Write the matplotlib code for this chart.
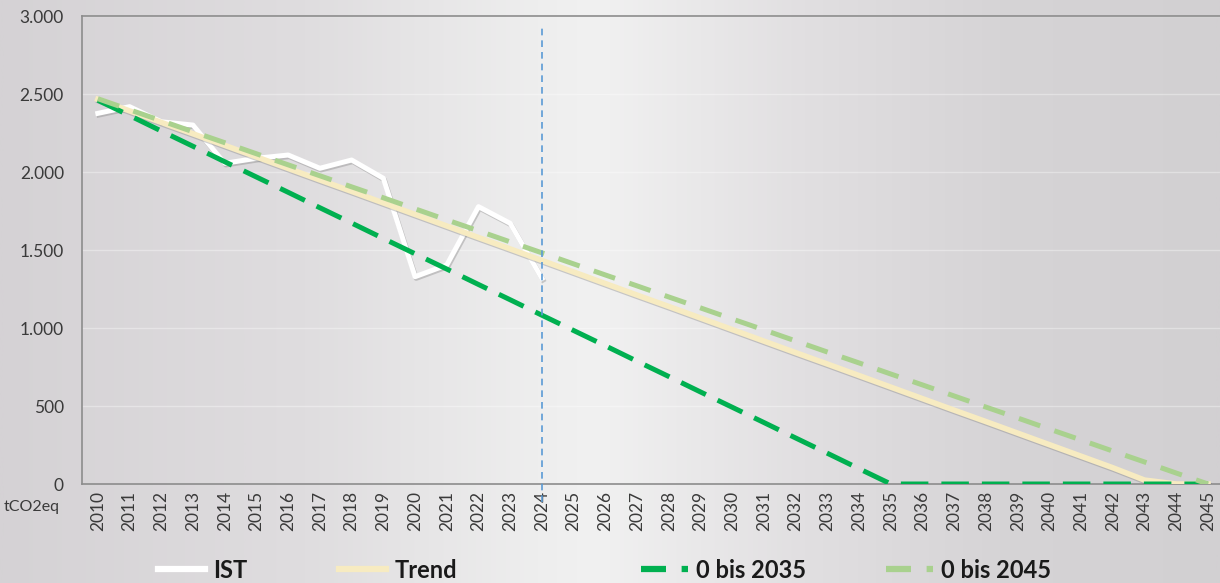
import matplotlib.pyplot as plt
import matplotlib.patheffects as pe
import numpy as np
from matplotlib.colors import LinearSegmentedColormap
from matplotlib.lines import Line2D
from matplotlib.ticker import FuncFormatter, MultipleLocator

plt.rcParams['font.family'] = ['Lato', 'DejaVu Sans']

years = np.arange(2010, 2046)
ist_years = np.arange(2010, 2025)
ist = [2376, 2419, 2322, 2301, 2056, 2088, 2109, 2024, 2077, 1960,
       1329, 1404, 1778, 1671, 1318]
trend = [2466, 2392, 2318, 2245, 2171, 2097, 2023, 1949, 1876, 1802,
         1728, 1654, 1580, 1507, 1433, 1359, 1285, 1211, 1138, 1064,
         990, 916, 842, 769, 695, 621, 547, 473, 400, 326,
         252, 178, 104, 25, 0, 0]
zero_2035 = [2460, 2362, 2263, 2165, 2066, 1968, 1870, 1771, 1673, 1574,
             1476, 1378, 1279, 1181, 1082, 984, 886, 787, 689, 590,
             492, 394, 295, 197, 98, 0, 0, 0, 0, 0,
             0, 0, 0, 0, 0, 0]
zero_2045 = [2470, 2399, 2329, 2258, 2188, 2117, 2046, 1976, 1905, 1835,
             1764, 1693, 1623, 1552, 1482, 1411, 1340, 1270, 1199, 1129,
             1058, 988, 917, 846, 776, 705, 635, 564, 493, 423,
             352, 282, 211, 141, 70, 0]
marker_year = 2024

fig = plt.figure(figsize=(12.2, 5.83), dpi=100)

# horizontal grey gradient behind everything
bg = fig.add_axes([0, 0, 1, 1], zorder=-10)
stops = [(0.0, (213, 210, 213)), (0.25, (223, 221, 223)), (0.44, (238, 238, 238)),
         (0.49, (241, 241, 241)), (0.66, (225, 223, 225)), (0.82, (214, 212, 214)),
         (1.0, (210, 208, 210))]
cmap = LinearSegmentedColormap.from_list('bg', [(p, tuple(c / 255 for c in rgb)) for p, rgb in stops])
bg.imshow(np.linspace(0, 1, 512)[None, :], aspect='auto', cmap=cmap, extent=[0, 1, 0, 1])
bg.axis('off')

ax = fig.add_axes([0.0672, 0.1698, 0.936, 0.8027])
ax.patch.set_alpha(0)

shadow = [pe.SimpleLineShadow(offset=(0.8, -1.2), shadow_color='#7a7a7a', alpha=0.35), pe.Normal()]
ax.plot(ist_years, ist, color='white', lw=3.6, zorder=3, path_effects=shadow)
ax.plot(years, trend, color='#F7EBC1', lw=4, zorder=4, path_effects=shadow)
ax.plot(years, zero_2035, color='#00B050', lw=3.6, dashes=(5.5, 2.6), zorder=5)
ax.plot(years, zero_2045, color='#A9D18E', lw=3.6, dashes=(4.5, 3.0), zorder=5)

ax.plot([marker_year, marker_year], [-115, 2940], color='#5B9BD5', lw=1.2,
        dashes=(4, 3), clip_on=False, zorder=6)

ax.set_xlim(2009.5, 2045.5)
ax.set_ylim(0, 3000)
ax.yaxis.set_major_locator(MultipleLocator(500))
ax.yaxis.set_major_formatter(FuncFormatter(lambda v, p: f'{int(v):,}'.replace(',', '.')))
ax.set_xticks(years)
ax.set_xticklabels([str(y) for y in years], rotation=90)
ax.tick_params(axis='both', length=0, labelsize=12.5, labelcolor='#3A3A3A')
ax.tick_params(axis='y', pad=13)
ax.tick_params(axis='x', pad=5)
ax.grid(axis='y', color='white', alpha=0.35, lw=1)
ax.set_axisbelow(True)

for side in ['left', 'bottom', 'top']:
    ax.spines[side].set_color('#8C8C8C')
    ax.spines[side].set_linewidth(1.2)
ax.spines['right'].set_visible(False)

fig.text(60 / 1220, 1 - 507 / 583, 'tCO2eq', ha='right', va='center',
         fontsize=11.5, color='#3A3A3A')

# legend entries placed one by one along the bottom
entries = [
    ('IST', dict(color='white', lw=4.5), 158),
    ('Trend', dict(color='#F7EBC1', lw=4.5), 339),
    ('0 bis 2035', dict(color='#00B050', lw=4.5, dashes=(4, 2.5)), 641),
    ('0 bis 2045', dict(color='#A9D18E', lw=4.5, dashes=(4, 2.5)), 886),
]
for label, style, x0 in entries:
    h = Line2D([], [], **style)
    fig.legend(handles=[h], labels=[label], loc='center left',
               bbox_to_anchor=(x0 / 1220, 1 - 570 / 583), frameon=False,
               handlelength=2.0, handletextpad=0.35, borderaxespad=0, borderpad=0,
               prop={'size': 17, 'weight': 'bold'}, labelcolor='#1A1A1A')

fig.savefig('out.png', dpi=100)
